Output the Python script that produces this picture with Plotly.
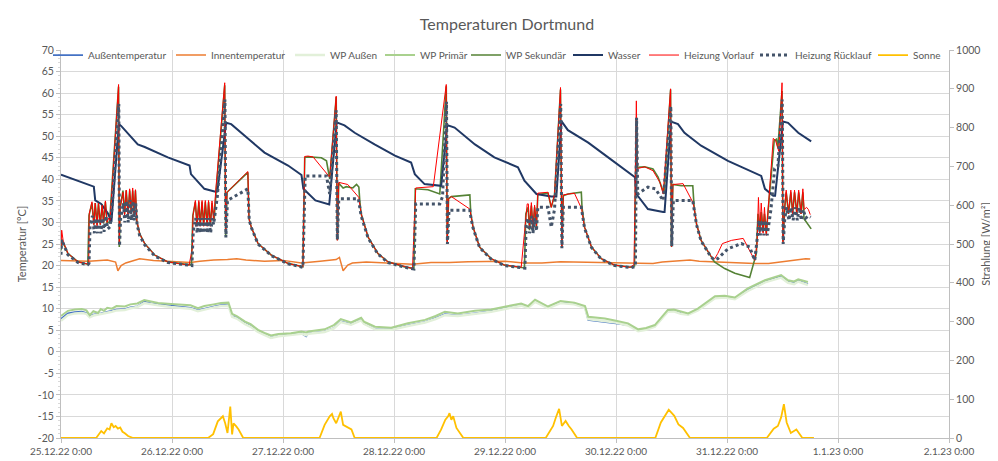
import plotly.graph_objects as go

# ---------------- data (hours since 25.12.22 0:00) ----------------
x_tickvals = [0, 24, 48, 72, 96, 120, 144, 168, 192]
x_ticktext = ["25.12.22 0:00", "26.12.22 0:00", "27.12.22 0:00", "28.12.22 0:00",
              "29.12.22 0:00", "30.12.22 0:00", "31.12.22 0:00", "1.1.23 0:00", "2.1.23 0:00"]
y_tickvals = list(range(-20, 75, 5))
y2_tickvals = list(range(0, 1100, 100))

outdoor_h = [0, 1.5, 3, 4.5, 5.5, 6.2, 7, 8, 8.6, 9.3, 10, 11, 12, 13.8, 15, 16.5, 18, 19.5, 21, 23.8,
             26, 28, 29.6, 31, 33, 34.6, 36.2, 37, 38, 39.8, 41, 42.6, 44, 45.4, 47, 49.7, 52, 53, 53.5,
             57, 59, 60.5, 62.7, 64.9, 65.5, 67.9, 71.4, 75, 78.7, 81, 83, 85.8, 89.5, 93, 96.2, 99.5,
             101, 102.5, 105.3, 108, 111, 113.3, 114, 117.6, 120, 122.6, 124.8, 126.5, 128.4, 131.2,
             132.5, 134, 135.6, 137.7, 141.4, 143.5, 145.7, 148.5, 152.2, 155.7, 157.2, 158.5, 159.4, 161.5]
aussentemperatur = [7.6, 8.9, 9.2, 9.3, 9.0, 8.3, 8.6, 8.9, 8.9, 9.1, 9.3, 9.5, 9.8, 9.9, 10.3, 10.5, 11.6,
                    11.2, 11.0, 10.6, 10.4, 10.2, 9.6, 10.0, 10.5, 10.8, 10.9, 8.3, 7.9, 6.6, 6.0, 4.8, 4.0,
                    3.3, 3.7, 4.0, 4.3, 3.6, 4.3, 4.7, 5.5, 7.0, 6.4, 7.4, 6.6, 5.3, 5.2, 6.1, 6.9, 7.8, 8.7,
                    8.4, 9.0, 9.4, 10.1, 10.8, 10.3, 11.8, 10.2, 11.5, 11.1, 10.3, 7.4, 7.0, 6.6, 6.2, 4.9,
                    5.2, 5.9, 9.4, 9.6, 8.9, 8.7, 9.7, 12.6, 12.8, 12.3, 14.3, 16.3, 17.5, 16.2, 15.9, 16.5, 15.7]
wp_primaer = [8.3, 9.5, 9.8, 9.9, 9.6, 8.5, 9.4, 9.0, 9.9, 9.5, 10.2, 10.0, 10.6, 10.5, 11.0, 11.2, 12.0,
              11.6, 11.3, 11.1, 10.9, 10.8, 10.1, 10.6, 11.0, 11.3, 11.4, 8.8, 8.3, 7.0, 6.4, 5.1, 4.4,
              3.8, 4.1, 4.3, 4.7, 4.5, 4.7, 5.2, 6.2, 7.6, 6.8, 7.9, 7.0, 5.8, 5.6, 6.6, 7.4, 8.3, 9.3,
              8.9, 9.5, 9.8, 10.5, 11.2, 10.6, 12.1, 10.5, 11.8, 11.4, 10.6, 8.1, 7.7, 7.2, 6.6, 5.2,
              5.5, 6.2, 9.7, 9.8, 9.3, 8.9, 10.0, 12.9, 13.0, 12.6, 14.7, 16.6, 17.8, 16.6, 16.3, 16.8, 16.2]
wp_aussen = [7.2, 8.5, 8.9, 9.0, 8.8, 8.0, 8.4, 8.6, 8.7, 8.9, 9.1, 9.3, 9.6, 9.7, 10.1, 10.4, 11.3,
             11.0, 10.8, 10.4, 10.2, 10.0, 9.4, 9.8, 10.3, 10.6, 10.7, 8.1, 7.7, 6.4, 5.8, 4.6, 3.9,
             3.2, 3.6, 3.9, 4.2, 3.8, 4.2, 4.6, 5.4, 6.9, 6.3, 7.3, 6.5, 5.2, 5.1, 6.0, 6.8, 7.6, 8.5,
             8.3, 8.9, 9.3, 10.0, 10.7, 10.2, 11.6, 10.1, 11.3, 11.0, 10.2, 7.6, 7.2, 6.8, 6.1, 4.8,
             5.1, 5.8, 9.3, 9.4, 8.8, 8.6, 9.6, 12.4, 12.6, 12.2, 14.1, 16.1, 17.2, 16.0, 15.7, 16.3, 15.5]

innen_h = [0, 6, 10, 11.8, 12.3, 13, 14, 16, 17, 20, 24, 28, 30, 33, 36, 38, 40, 44, 48, 52, 56, 59.5,
           60.2, 61, 62, 63, 66, 72, 76, 80, 84, 88, 92, 96, 100, 104, 108, 112, 116, 120, 124, 128,
           130, 133, 136, 138, 142, 146, 150, 153, 156, 159, 161, 162]
innentemperatur = [21.2, 21.0, 21.3, 20.8, 18.8, 20.0, 20.6, 21.3, 21.6, 21.2, 21.0, 20.7, 21.0, 21.3,
                   21.4, 21.6, 21.3, 21.0, 21.2, 20.6, 21.0, 21.4, 21.9, 18.8, 20.1, 20.6, 20.8, 20.6,
                   20.3, 20.7, 20.7, 20.9, 21.0, 21.0, 20.6, 20.6, 20.9, 20.8, 20.7, 20.6, 20.5, 20.5,
                   20.8, 21.0, 21.3, 21.0, 20.8, 20.7, 20.5, 20.5, 20.9, 21.3, 21.6, 21.5]

wasser_h = [0, 6.6, 7.1, 7.4, 8.7, 10.2, 10.9, 12.5, 13.0, 16.6, 18.1, 23.1, 27.8, 28.1, 31.0, 33.2, 33.8,
            35.7, 36.8, 40.8, 44.0, 49.1, 52.0, 52.4, 55.0, 58.0, 59.6, 61.3, 63.5, 67.8, 72.2, 75.7,
            76.5, 78.6, 81.9, 82.2, 83.5, 85.1, 89.5, 93.7, 98.8, 100.2, 102.8, 106.0, 107.1, 108.2,
            109.6, 114.0, 118.3, 124.1, 124.4, 126.9, 130.2, 130.5, 131.9, 133.4, 134.8, 138.4, 144.2,
            151.4, 152.2, 154.0, 154.4, 156.1, 157.2, 159.4, 162.2]
wasser = [41.1, 38.5, 38.3, 35.1, 34.3, 32.0, 30.1, 52.8, 52.4, 48.1, 47.5, 45.1, 43.2, 41.2, 37.8, 37.2,
          37.2, 53.1, 52.8, 49.1, 46.2, 43.2, 41.0, 37.8, 35.1, 34.2, 53.2, 52.5, 50.8, 48.1, 45.5, 43.9,
          41.2, 38.9, 38.5, 38.5, 52.6, 52.0, 48.1, 45.1, 42.8, 39.7, 36.6, 36.0, 36.0, 53.5, 51.4, 48.5,
          45.1, 40.5, 36.6, 33.1, 32.4, 32.4, 53.4, 52.8, 50.8, 47.8, 44.3, 40.8, 37.8, 36.2, 36.2, 53.4,
          53.1, 50.8, 48.8]

sekundaer_h = [0, 0.2, 1.5, 3.7, 5.8, 6.05, 6.7, 7.1, 7.4, 7.8, 8.1, 8.5, 8.9, 9.2, 9.6, 9.95, 10.5, 12.45,
               12.6, 12.8, 13.4, 13.75, 14.1, 14.5, 14.85, 15.2, 15.5, 15.8, 16.1, 16.4, 17.0, 18.1, 20.3,
               23.1, 28.2, 28.5, 29.05, 29.4, 29.8, 30.1, 30.5, 30.85, 31.2, 31.6, 31.9, 32.3, 32.65, 33.1,
               33.6, 35.4, 35.6, 35.9, 40.4, 40.65, 41.15, 42.6, 45.5, 49.1, 52.3, 52.7, 53.4, 54.8, 56.3,
               57.4, 57.7, 58.1, 59.5, 59.75, 60.05, 61.0, 61.7, 63.1, 63.9, 64.4, 64.6, 64.9, 66.4, 68.5,
               70.7, 74.3, 76.3, 76.6, 79.35, 80.8, 81.9, 83.3, 83.5, 83.8, 84.4, 88.4, 88.6, 89.1, 90.5,
               93.0, 95.9, 100.2, 100.5, 101.0, 101.3, 101.7, 102.05, 102.4, 102.8, 103.1, 105.3, 106.0,
               106.7, 108.0, 108.3, 108.6, 109.6, 112.5, 112.65, 113.2, 114.7, 116.8, 119.7, 123.3, 124.0,
               124.4, 124.6, 126.2, 128.0, 129.1, 129.9, 130.4, 131.8, 132.0, 132.3, 134.1, 136.6, 136.9,
               137.4, 138.4, 140.6, 141.3, 143.5, 145.7, 148.9, 149.6, 150.35, 150.7, 151.05, 151.4,
               151.8, 152.1, 152.5, 152.9, 153.2, 154.2, 154.7, 155.0, 155.9, 156.1, 156.5, 156.8, 157.3,
               157.8, 158.2, 158.6, 159.1, 159.5, 160.0, 160.4, 160.65, 162.2]
wp_sekundaer = [23.5, 26.0, 22.8, 20.85, 20.3, 31.6, 34.5, 29.5, 34.5, 29.5, 34.5, 29.5, 34.2, 29.8,
                34.7, 30.0, 30.1, 61.5, 24.3, 33.5, 37.4, 32.0, 37.4, 32.0, 37.4, 32.0, 37.4, 32.0, 37.4,
                30.1, 27.4, 25.1, 22.4, 20.85, 20.1, 31.6, 34.7, 29.2, 34.7, 29.2, 34.7, 29.2, 34.7, 29.2,
                34.7, 29.2, 34.5, 30.5, 38.0, 61.85, 27.0, 37.0, 41.6, 30.85, 28.9, 25.1, 22.4, 20.5, 19.7,
                45.1, 45.2, 45.1, 45.0, 44.3, 42.8, 40.1, 59.1, 25.85, 39.1, 38.0, 38.3, 38.0, 38.8, 38.2,
                35.1, 32.0, 26.6, 22.8, 20.85, 19.7, 19.3, 37.8, 37.6, 37.0, 36.6, 61.6, 25.5, 35.5, 36.0,
                36.4, 32.0, 28.9, 24.3, 21.6, 20.1, 19.45, 32.0, 33.5, 28.2, 33.9, 28.5, 33.5, 28.9, 36.5,
                36.8, 33.5, 36.2, 60.85, 24.3, 36.2, 36.6, 37.0, 33.5, 28.9, 24.3, 21.6, 20.1, 19.6, 19.9,
                54.3, 42.8, 42.9, 42.4, 40.5, 37.8, 36.6, 60.85, 24.3, 38.8, 38.5, 38.5, 33.5, 29.7, 25.85,
                22.0, 20.85, 19.3, 18.2, 17.2, 19.7, 22.8, 32.0, 28.2, 32.4, 27.8, 32.0, 27.4, 32.8, 36.6,
                48.9, 49.3, 47.4, 60.5, 25.5, 33.5, 37.0, 32.0, 37.0, 32.0, 37.0, 32.0, 37.0, 32.0, 37.0,
                30.85, 28.5]

vorlauf_h = [0, 0.15, 0.5, 1.5, 3.7, 5.8, 6.0, 6.1, 6.7, 7.1, 7.4, 7.8, 8.1, 8.5, 8.9, 9.2, 9.6, 9.95,
             10.3, 10.6, 12.45, 12.6, 12.8, 13.4, 13.75, 14.1, 14.5, 14.85, 15.2, 15.5, 15.8, 16.1, 16.4,
             17.0, 18.1, 20.3, 23.1, 27.7, 28.4, 28.55, 29.05, 29.4, 29.8, 30.1, 30.5, 30.85, 31.2, 31.6,
             31.9, 32.3, 32.65, 33.0, 33.5, 35.4, 35.6, 35.9, 40.4, 40.65, 41.15, 42.6, 45.5, 49.1, 52.3,
             52.7, 53.4, 54.5, 58.1, 59.5, 59.75, 60.05, 62.0, 64.4, 64.6, 64.9, 66.4, 68.5, 70.7, 74.3,
             76.0, 76.7, 80.5, 83.3, 83.5, 83.8, 84.4, 88.4, 88.6, 89.1, 90.5, 93.0, 95.9, 99.5, 100.8,
             101.05, 101.3, 101.7, 102.05, 102.4, 102.8, 103.1, 105.3, 106.0, 106.7, 108.0, 108.3,
             108.6, 111.0, 112.6, 112.65, 113.2, 114.7, 116.8, 119.7, 123.0, 123.9, 124.4, 124.6, 126.2,
             128.0, 129.5, 130.2, 131.8, 132.0, 132.3, 134.5, 136.6, 136.9, 137.4, 138.4, 140.5, 141.3,
             142.0, 143.0, 145.0, 147.5, 150.0, 150.5, 150.8, 151.1, 151.4, 151.8, 152.1, 152.5, 152.9,
             153.2, 154.0, 154.5, 155.2, 155.9, 156.1, 156.5, 156.8, 157.3, 157.8, 158.2, 158.6, 159.1,
             159.5, 160.0, 160.4, 160.7, 161.2, 161.6, 162.0]
heizung_vorlauf = [24.0, 28.2, 25.5, 22.8, 20.85, 20.3, 20.3, 32.0, 34.8, 29.5, 34.5, 29.2, 34.5, 29.5,
                   34.0, 30.0, 35.0, 30.0, 31.0, 30.5, 62.0, 25.0, 33.5, 37.0, 31.5, 37.5, 31.5, 37.8,
                   32.0, 38.0, 32.0, 37.6, 30.5, 27.4, 25.1, 22.4, 20.85, 20.1, 24.0, 31.6, 35.1, 29.1,
                   35.1, 29.1, 35.1, 29.1, 35.1, 29.1, 35.1, 29.1, 35.0, 30.5, 38.0, 62.4, 27.4, 37.0,
                   41.8, 30.85, 28.9, 25.1, 22.4, 20.5, 19.7, 45.3, 45.4, 45.2, 40.5, 59.3, 25.85, 39.3,
                   38.8, 35.8, 34.5, 32.0, 26.6, 22.8, 20.85, 19.7, 19.3, 38.0, 38.3, 62.0, 25.5, 35.5,
                   36.0, 33.1, 32.0, 28.9, 24.3, 21.6, 20.1, 19.6, 34.3, 34.3, 28.5, 34.6, 28.8, 34.0,
                   29.2, 36.8, 37.0, 33.5, 36.5, 61.3, 24.3, 36.4, 36.8, 33.1, 32.5, 28.9, 24.3, 21.6,
                   20.1, 19.6, 20.2, 58.2, 42.5, 42.9, 42.0, 39.3, 36.6, 61.0, 24.3, 38.8, 39.0, 34.7,
                   33.5, 29.7, 25.85, 22.2, 21.5, 22.8, 25.1, 25.85, 26.3, 21.2, 25.0, 35.8, 27.5, 34.5,
                   27.5, 33.5, 27.0, 33.0, 36.6, 49.5, 49.0, 46.5, 62.4, 25.5, 34.0, 37.5, 32.0, 37.5,
                   32.0, 37.5, 32.0, 37.5, 32.0, 37.8, 33.0, 33.5, 33.0, 31.8]

ruecklauf_h = [0, 0.15, 1.5, 3.7, 5.8, 6.05, 6.3, 6.8, 7.2, 7.5, 7.9, 8.2, 8.6, 9.0, 9.3, 9.7, 10.1,
               10.6, 11.0, 12.5, 12.65, 12.9, 13.5, 13.8, 14.2, 14.55, 14.9, 15.25, 15.55, 15.85, 16.15,
               16.45, 17.0, 18.1, 20.3, 23.1, 28.3, 28.6, 29.1, 29.45, 29.85, 30.15, 30.55, 30.9, 31.25,
               31.65, 31.95, 32.35, 32.7, 33.0, 33.8, 35.45, 35.65, 36.0, 40.4, 40.7, 41.2, 42.6, 45.5,
               49.1, 52.3, 52.8, 57.4, 58.1, 59.5, 59.75, 60.05, 60.3, 64.3, 64.6, 64.9, 66.4, 68.5,
               70.7, 74.3, 76.3, 76.7, 81.9, 82.5, 83.35, 83.55, 83.9, 88.4, 88.65, 89.1, 90.5, 93.0,
               95.9, 100.3, 100.6, 101.0, 101.3, 101.7, 102.05, 102.4, 102.8, 103.1, 105.3, 106.0,
               106.7, 108.05, 108.3, 108.6, 112.5, 112.7, 113.2, 114.7, 116.8, 119.7, 123.3, 124.2,
               124.45, 124.7, 126.9, 128.5, 130.2, 131.85, 132.05, 132.4, 136.6, 136.9, 137.4, 138.4,
               140.6, 141.3, 142.0, 144.2, 147.1, 148.9, 150.0, 150.5, 150.9, 151.2, 151.6, 151.95,
               152.3, 152.7, 153.0, 153.5, 154.3, 155.0, 155.95, 156.15, 156.5, 156.9, 157.4, 157.85,
               158.3, 158.7, 159.2, 159.6, 160.1, 160.5, 161.0, 161.6, 162.1]
heizung_ruecklauf = [22.5, 26.0, 22.5, 20.7, 20.2, 20.5, 29.5, 31.5, 27.5, 31.0, 27.5, 31.0, 27.5, 31.0,
                     27.8, 31.5, 28.5, 29.0, 33.0, 57.5, 24.5, 31.0, 34.5, 30.0, 35.0, 30.0, 35.2, 30.5,
                     35.0, 30.5, 34.5, 29.5, 27.0, 24.8, 22.2, 20.7, 20.0, 28.0, 31.0, 27.5, 31.0, 27.5,
                     31.0, 27.5, 31.0, 27.5, 31.0, 27.5, 31.0, 29.5, 36.0, 58.5, 26.5, 35.1, 37.8, 30.5,
                     28.7, 25.0, 22.3, 20.4, 19.6, 40.8, 40.8, 36.6, 56.0, 26.0, 35.0, 35.5, 35.5, 33.5,
                     31.5, 26.4, 22.7, 20.7, 19.6, 19.2, 34.3, 34.3, 36.0, 58.0, 25.0, 32.8, 32.8, 31.0,
                     28.7, 24.2, 21.5, 20.0, 19.4, 30.0, 31.0, 27.5, 31.5, 27.5, 31.0, 28.0, 33.5, 33.5,
                     28.9, 33.0, 57.5, 24.0, 33.5, 33.5, 32.0, 28.7, 24.2, 21.5, 20.0, 19.5, 19.8, 54.3,
                     36.6, 38.2, 37.8, 35.1, 57.0, 24.5, 35.1, 35.1, 33.0, 29.5, 25.7, 21.9, 21.3, 21.6,
                     23.9, 25.1, 24.3, 21.2, 26.0, 30.5, 27.0, 30.5, 27.0, 30.5, 27.0, 29.0, 33.0, 42.5,
                     43.0, 58.5, 25.0, 31.0, 33.5, 30.5, 33.5, 30.5, 33.5, 30.5, 33.5, 30.5, 33.0, 31.0,
                     31.5, 31.2]

sonne_h = [0, 7.6, 8.7, 9.3, 10.0, 10.5, 10.9, 11.4, 11.8, 12.3, 12.8, 13.3, 13.8, 14.5, 15.6,
           31.8, 32.9, 33.9, 35.0, 35.5, 36.0, 36.6, 37.0, 37.3, 37.9, 38.4, 39.4,
           55.9, 57.0, 58.1, 58.6, 58.9, 59.5, 60.5, 61.0, 62.1, 62.8, 63.5,
           81.2, 82.2, 83.1, 83.7, 84.0, 84.4, 84.8, 85.5, 86.2, 87.0,
           104.8, 106.4, 107.0, 107.7, 108.3, 109.1, 109.8, 110.4, 111.6,
           128.5, 129.7, 131.4, 132.6, 133.5, 134.5, 136.0,
           152.6, 154.1, 155.0, 155.7, 156.3, 156.9, 157.8, 159.0, 160.3, 162.8]
sonne = [0, 0, 18, 12, 25, 22, 38, 28, 31, 24, 27, 16, 12, 5, 0,
         0, 10, 43, 56, 38, 13, 81, 9, 38, 30, 22, 0,
         0, 34, 56, 62, 51, 38, 68, 34, 26, 22, 0,
         0, 22, 47, 56, 64, 47, 56, 26, 13, 0,
         0, 31, 53, 75, 31, 44, 31, 22, 0,
         0, 40, 73, 57, 35, 26, 0,
         0, 24, 31, 53, 87, 40, 13, 22, 0, 0]

# ---------------- figure ----------------
FONT = "Lato"
GREY = "#595959"
PLOT_L, PLOT_W = 53, 888
# pixel x where each legend entry's line sample starts (as in the reference)
legend_px = [55, 178, 297, 387, 473, 575, 651, 762, 880]

fig = go.Figure()
series = [
    ("Außentemperatur", outdoor_h, aussentemperatur, dict(color="#4472C4", width=1.8), "y"),
    ("Innentemperatur", innen_h, innentemperatur, dict(color="#ED7D31", width=1.5), "y"),
    ("WP Außen", outdoor_h, wp_aussen, dict(color="#E2F0D9", width=2.5), "y"),
    ("WP Primär", outdoor_h, wp_primaer, dict(color="#A9D18E", width=2), "y"),
    ("WP Sekundär", sekundaer_h, wp_sekundaer, dict(color="#548235", width=1.6), "y"),
    ("Wasser", wasser_h, wasser, dict(color="#203864", width=2), "y"),
    ("Heizung Vorlauf", vorlauf_h, heizung_vorlauf, dict(color="#FF0000", width=1), "y"),
    ("Heizung Rücklauf", ruecklauf_h, heizung_ruecklauf, dict(color="#44546A", width=3, dash="dot"), "y"),
    ("Sonne", sonne_h, sonne, dict(color="#FFC000", width=1.8), "y2"),
]
legend_layouts = {}
for i, (name, xs, ys, line, ax) in enumerate(series):
    lg = "legend" if i == 0 else f"legend{i + 1}"
    fig.add_trace(go.Scatter(x=xs, y=ys, name=name, mode="lines", line=line, yaxis=ax,
                             legend=lg, showlegend=True))
    legend_layouts[lg] = dict(orientation="h", x=(legend_px[i] - 15 - PLOT_L) / PLOT_W, xanchor="left",
                              y=0.987, yanchor="middle", bgcolor="rgba(0,0,0,0)", borderwidth=0,
                              font=dict(family=FONT, size=10, color=GREY), itemwidth=30)

fig.update_layout(
    width=998, height=461,
    showlegend=True,
    margin=dict(l=53, r=57, t=42, b=29),
    paper_bgcolor="white", plot_bgcolor="white",
    font=dict(family=FONT, size=10, color=GREY),
    title=dict(text="Temperaturen Dortmund", x=0.5, xanchor="center", y=0.965, yanchor="middle",
               font=dict(family=FONT, size=16, color=GREY)),
    xaxis=dict(range=[0, 192], tickmode="array", tickvals=x_tickvals, ticktext=x_ticktext,
               showgrid=True, gridcolor="#D9D9D9", gridwidth=1, zeroline=False,
               showline=True, linecolor="#BFBFBF", ticks="outside", ticklen=4, tickcolor="#BFBFBF",
               tickfont=dict(size=10, color=GREY)),
    yaxis=dict(range=[-20, 70], tickmode="array", tickvals=y_tickvals,
               ticktext=[str(v) for v in y_tickvals], showgrid=True, gridcolor="#D9D9D9",
               zeroline=False, showline=True, linecolor="#BFBFBF", ticks="outside", ticklen=4,
               tickcolor="#BFBFBF", tickfont=dict(size=10.5, color=GREY),
               minor=dict(dtick=1, ticks="outside", ticklen=2, tickcolor="#D9D9D9", showgrid=False),
               title=dict(text="Temperatur [°C]", font=dict(size=11, color=GREY), standoff=8)),
    yaxis2=dict(range=[0, 1000], tickmode="array", tickvals=y2_tickvals,
                ticktext=[str(v) for v in y2_tickvals], overlaying="y", side="right",
                showgrid=False, zeroline=False, showline=True, linecolor="#BFBFBF",
                ticks="outside", ticklen=4, tickcolor="#BFBFBF", tickfont=dict(size=10.5, color=GREY),
                title=dict(text="Strahlung [W/m²]", font=dict(size=11, color=GREY), standoff=2)),
    **legend_layouts,
)

fig.write_html("out.html")
